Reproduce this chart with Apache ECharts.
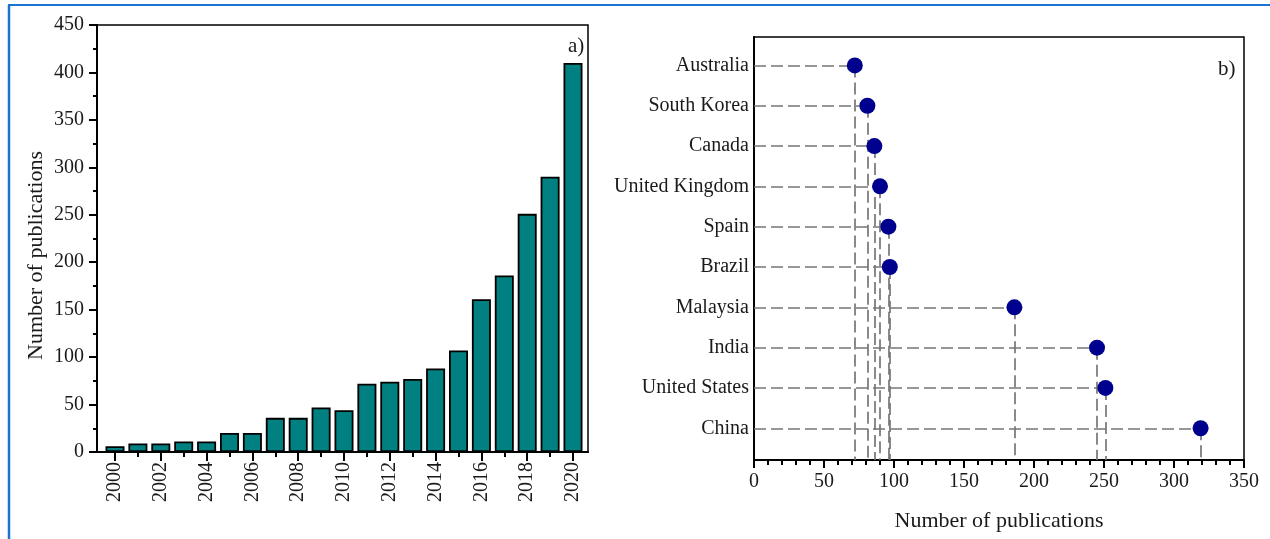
<!DOCTYPE html>
<html>
<head>
<meta charset="utf-8">
<script src="https://cdn.jsdelivr.net/npm/echarts@6/dist/echarts.min.js"></script>
<style>
  html, body { margin: 0; padding: 0; background: #fff; }
  #chart { width: 1270px; height: 539px; }
</style>
</head>
<body>
<div id="chart"></div>
<script>
// ---- data ----
const years = [2000, 2001, 2002, 2003, 2004, 2005, 2006, 2007, 2008, 2009, 2010,
               2011, 2012, 2013, 2014, 2015, 2016, 2017, 2018, 2019, 2020];
const pubsPerYear = [6, 9, 9, 11, 11, 20, 20, 36, 36, 47, 44,
                     72, 74, 77, 88, 107, 161, 186, 251, 290, 410];
const yearLabels = [2000, 2002, 2004, 2006, 2008, 2010, 2012, 2014, 2016, 2018, 2020];
const leftYTicks = [0, 50, 100, 150, 200, 250, 300, 350, 400, 450];

// bottom -> top
const countries = ['China', 'United States', 'India', 'Malaysia', 'Brazil',
                   'Spain', 'United Kingdom', 'Canada', 'South Korea', 'Australia'];
const countryPubs = [319, 251, 245, 186, 97, 96, 90, 86, 81, 72];
const rightXTicks = [0, 50, 100, 150, 200, 250, 300, 350];

const FONT = '"Liberation Serif", "Times New Roman", serif';
const TXT = '#1a1a1a';
const countryIdx = countries.map((c, i) => i);
const yMinR = -0.787, yMaxR = 9.705;

const markLines = [];
countries.forEach((c, i) => {
  markLines.push([{ coord: [0, i] }, { coord: [countryPubs[i], i] }]);
  markLines.push([{ coord: [countryPubs[i], i] }, { coord: [countryPubs[i], yMinR] }]);
});

const chart = echarts.init(document.getElementById('chart'), null, { renderer: 'canvas' });
chart.setOption({
  animation: false,
  backgroundColor: '#fff',
  textStyle: { fontFamily: FONT },
  title: [
    { text: 'a)', left: 563, top: 31, textStyle: { fontFamily: FONT, fontSize: 21, fontWeight: 'normal', color: TXT } },
    { text: 'b)', left: 1213, top: 54, textStyle: { fontFamily: FONT, fontSize: 21, fontWeight: 'normal', color: TXT } }
  ],
  graphic: [
    { type: 'line', shape: { x1: 8, y1: 5, x2: 1270, y2: 5 }, style: { stroke: '#1b74cf', lineWidth: 2 } },
    { type: 'line', shape: { x1: 9, y1: 5, x2: 9, y2: 539 }, style: { stroke: '#1b74cf', lineWidth: 2.5 } }
  ],
  grid: [
    { left: 97, top: 25, width: 491, height: 427, show: true, borderColor: '#000', borderWidth: 1.5, containLabel: false },
    { left: 754, top: 37, width: 490, height: 423, show: true, borderColor: '#000', borderWidth: 1.5, containLabel: false }
  ],
  xAxis: [
    {
      gridIndex: 0, type: 'value', position: 'bottom', min: 1999.214, max: 2020.655,
      splitLine: { show: false },
      axisLine: { show: true, onZero: false, lineStyle: { color: '#000', width: 2 } },
      axisTick: { show: true, customValues: years, length: 5, lineStyle: { color: '#000', width: 2 } },
      axisLabel: {
        customValues: yearLabels, rotate: 90, margin: 10,
        formatter: v => String(Math.round(v)),
        fontFamily: FONT, fontSize: 20, color: TXT
      }
    },
    {
      gridIndex: 0, type: 'value', position: 'bottom', min: 1999.214, max: 2020.655,
      splitLine: { show: false },
      axisLine: { show: false, onZero: false },
      axisTick: { show: true, customValues: yearLabels, length: 9, lineStyle: { color: '#000', width: 2 } },
      axisLabel: { show: false }
    },
    {
      gridIndex: 1, type: 'value', position: 'bottom', min: 0, max: 350, interval: 50,
      splitLine: { show: false },
      axisLine: { show: true, onZero: false, lineStyle: { color: '#000', width: 2 } },
      axisTick: { show: true, length: 8, lineStyle: { color: '#000', width: 2 } },
      minorTick: { show: true, splitNumber: 5, length: 5, lineStyle: { color: '#000', width: 2 } },
      axisLabel: { margin: 12, fontFamily: FONT, fontSize: 20, color: TXT, formatter: v => String(v) },
      name: 'Number of publications', nameLocation: 'middle', nameGap: 50,
      nameTextStyle: { fontFamily: FONT, fontSize: 22, color: TXT }
    }
  ],
  yAxis: [
    {
      gridIndex: 0, type: 'value', min: 0, max: 450, interval: 50,
      splitLine: { show: false },
      axisLine: { show: true, onZero: false, lineStyle: { color: '#000', width: 2 } },
      axisTick: { show: true, length: 8, lineStyle: { color: '#000', width: 2 } },
      minorTick: { show: true, splitNumber: 2, length: 4, lineStyle: { color: '#000', width: 2 } },
      axisLabel: { margin: 13, fontFamily: FONT, fontSize: 20, color: TXT, formatter: v => String(v) },
      name: 'Number of publications', nameLocation: 'middle', nameGap: 50,
      nameTextStyle: { fontFamily: FONT, fontSize: 22, color: TXT, padding: [0, 34, 0, 0] }
    },
    {
      gridIndex: 1, type: 'value', min: yMinR, max: yMaxR,
      splitLine: { show: false },
      axisLine: { show: true, onZero: false, lineStyle: { color: '#000', width: 2 } },
      axisTick: { show: false },
      axisLabel: {
        customValues: countryIdx, margin: 5,
        formatter: v => countries[Math.round(v)],
        fontFamily: FONT, fontSize: 20, color: TXT
      }
    }
  ],
  series: [
    {
      type: 'bar', xAxisIndex: 0, yAxisIndex: 0, barWidth: 19,
      data: years.map((y, i) => [y, pubsPerYear[i]]),
      itemStyle: { color: '#008080', borderColor: '#000', borderWidth: 1.8 }
    },
    {
      type: 'scatter', xAxisIndex: 2, yAxisIndex: 1, symbol: 'circle', symbolSize: 16, z: 5,
      data: countries.map((c, i) => [countryPubs[i], i]),
      itemStyle: { color: '#00008e', opacity: 1 },
      markLine: {
        silent: true, symbol: 'none', animation: false,
        label: { show: false },
        lineStyle: { color: '#767676', width: 1.7, type: [12, 5] },
        data: markLines
      }
    }
  ]
});
</script>
</body>
</html>
